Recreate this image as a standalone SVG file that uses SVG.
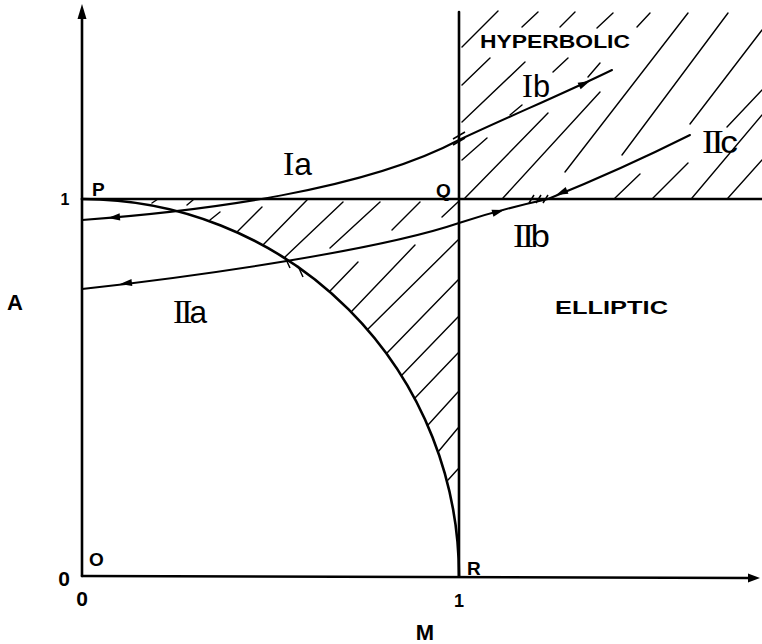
<svg xmlns="http://www.w3.org/2000/svg" width="762" height="644" viewBox="0 0 762 644">
<defs>
<style>
.ax{stroke:#000;stroke-width:2.6;fill:none;stroke-linecap:round}
.ln{stroke:#000;stroke-width:2;fill:none;stroke-linecap:round}
.h{stroke:#000;stroke-width:1.4;fill:none;stroke-linecap:round}
.tk{stroke:#000;stroke-width:1.5;fill:none}
.lb{font-family:"Liberation Sans",Arial,sans-serif;font-weight:bold;fill:#000}
.rn{font-family:"Liberation Serif","Times New Roman",serif;font-size:34px}
.lc{font-family:"Liberation Sans",Arial,sans-serif;font-size:32px}
</style>
<path id="ah" d="M0,0 L-12,-3.6 L-12,3.6 Z" fill="#000"/>
</defs>
<rect width="762" height="644" fill="#fff"/>

<g id="hatching">
<path class="h" d="M462,47L498,11 M522,27L538,12 M560,27L575,12 M597,28L613,13 M637,27L650,13
M565,172L688,13 M622,155L728,13 M690,124L762,30 M727,127L762,90
M615,198L640,174 M653,198L688,163 M692,198L762,115 M728,198L762,160
M462,85L490,58 M462,122L525,62 M510,115L522,105 M553,72L568,58 M588,77L600,63
M462,160L487,138 M465,198L548,113 M503,198L600,92"/>
<path class="h" d="M442,217L458,202 M392,230L420,202 M330,248L380,202 M285,257L343,202
M263,245L307,200 M237,232L262,207 M210,220L220,212 M187,205L193,200 M152,203L158,199
M330,291L358,262 M352,311L415,245 M368,329L458,240 M387,353L458,280 M402,375L458,317
M415,398L458,353 M428,425L458,392 M438,452L458,428 M448,480L458,469"/>
</g>

<g id="axes">
<path class="ax" d="M82,576V16"/>
<polygon points="82,4 77.5,19 86.5,19" fill="#000"/>
<path class="ax" d="M82,576L750,578"/>
<polygon points="760,578 748,573.5 748,582.5" fill="#000"/>
<path class="ax" d="M459,12V576"/>
<path class="ax" d="M82,199H762"/>
</g>

<g id="arc">
<path class="ax" d="M82,199A377,377 0 0,1 459,576"/>
</g>

<g id="connectors">
<path id="curve-I" class="ln" d="M82,220C205,211 365,190 459,140C510,116 565,93 612,70"/>
<path id="curve-II" class="ln" d="M82,289C200,276 380,250 459,223C490,213 520,205 548,199"/>
<path id="curve-IIc" class="ln" d="M548,199C600,178 650,155 690,135"/>
<use href="#ah" transform="translate(108,218) rotate(175)"/>
<use href="#ah" transform="translate(590,81) rotate(-25)"/>
<use href="#ah" transform="translate(120,284) rotate(173)"/>
<use href="#ah" transform="translate(504,210) rotate(-16)"/>
<use href="#ah" transform="translate(556,195) rotate(157)"/>
<path class="tk" d="M453,139L465,132 M453,145L465,138"/>
<path class="tk" d="M285,257L290,268 M298,266L303,277"/>
<path class="tk" d="M529,203L534,195 M536,203L541,195 M543,203L548,195"/>
</g>

<g id="labels">
<text class="lb" x="65" y="205" font-size="16" text-anchor="middle">1</text>
<text class="lb" x="92" y="196" font-size="19">P</text>
<text class="lb" x="436" y="197" font-size="19">Q</text>
<text class="lb" x="467" y="575" font-size="19">R</text>
<text class="lb" x="89" y="566" font-size="19">O</text>
<text class="lb" x="64" y="586" font-size="21" text-anchor="middle">0</text>
<text class="lb" x="82" y="606" font-size="21" text-anchor="middle">0</text>
<text class="lb" x="459" y="607" font-size="18" text-anchor="middle">1</text>
<text class="lb" x="7" y="310" font-size="22">A</text>
<text class="lb" x="425" y="640" font-size="22" text-anchor="middle">M</text>
<text class="lb" x="480" y="48" font-size="18" textLength="150" lengthAdjust="spacingAndGlyphs">HYPERBOLIC</text>
<text class="lb" x="555" y="314" font-size="19" textLength="113" lengthAdjust="spacingAndGlyphs">ELLIPTIC</text>
<text x="283" y="175" textLength="29" lengthAdjust="spacingAndGlyphs"><tspan class="rn">I</tspan><tspan class="lc">a</tspan></text>
<text x="522" y="97" textLength="28" lengthAdjust="spacingAndGlyphs"><tspan class="rn">I</tspan><tspan class="lc">b</tspan></text>
<text x="173" y="323" textLength="34" lengthAdjust="spacingAndGlyphs"><tspan class="rn" letter-spacing="-3">II</tspan><tspan class="lc">a</tspan></text>
<text x="513" y="247" textLength="37" lengthAdjust="spacingAndGlyphs"><tspan class="rn" letter-spacing="-3">II</tspan><tspan class="lc">b</tspan></text>
<text x="702" y="153" textLength="36" lengthAdjust="spacingAndGlyphs"><tspan class="rn" letter-spacing="-3">II</tspan><tspan class="lc">c</tspan></text>
</g>
</svg>
